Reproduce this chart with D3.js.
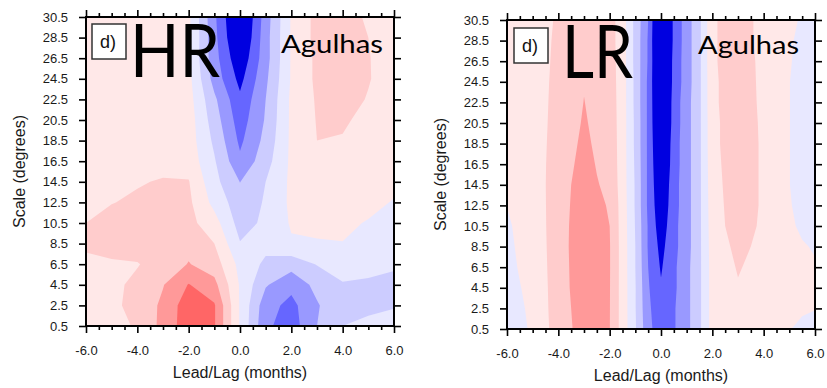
<!DOCTYPE html>
<html>
<head>
<meta charset="utf-8">
<script src="https://cdn.jsdelivr.net/npm/d3@7"></script>
<style>
  body { margin: 0; background: #fff; }
  svg { display: block; }
</style>
</head>
<body>
<svg id="chart" width="827" height="388"></svg>
<script>
// ---- data -------------------------------------------------------------
// Lead/lag axis (months) of each grid column
const hrLags = [-6, -5, -4, -3, -2, -1, 0, 1, 2, 3, 4, 5, 6];
const lrLags = [-6, -5.5, -5, -4.5, -4, -3.5, -3, -2.5, -2, -1.5, -1, -0.5, 0,
                0.5, 1, 1.5, 2, 2.5, 3, 3.5, 4, 4.5, 5, 5.5, 6];
// Spatial scale (degrees) of each grid row, top row first
const scaleRows = [30.5, 28.5, 26.5, 24.5, 22.5, 20.5, 18.5, 16.5,
                   14.5, 12.5, 10.5, 8.5, 6.5, 4.5, 2.5, 0.5];

// HR correlation field: one row per scale (top first), one value per lag
const hrValues = [
  [0.05, 0.05, 0.06, 0.05, 0.02, -0.28, -0.55, -0.25, 0.01, 0.13, 0.13, 0.09, 0.05],
  [0.05, 0.05, 0.06, 0.05, 0.02, -0.27, -0.53, -0.24, 0.01, 0.13, 0.13, 0.10, 0.05],
  [0.05, 0.05, 0.06, 0.05, 0.01, -0.26, -0.48, -0.24, 0.01, 0.12, 0.14, 0.105, 0.05],
  [0.05, 0.05, 0.06, 0.05, 0.03, -0.24, -0.43, -0.22, 0.01, 0.12, 0.14, 0.105, 0.06],
  [0.05, 0.06, 0.07, 0.06, 0.04, -0.18, -0.38, -0.20, 0.02, 0.11, 0.13, 0.095, 0.06],
  [0.05, 0.06, 0.07, 0.07, 0.05, -0.15, -0.35, -0.19, 0.02, 0.105, 0.11, 0.08, 0.06],
  [0.05, 0.06, 0.07, 0.07, 0.05, -0.12, -0.32, -0.17, 0.02, 0.10, 0.095, 0.07, 0.06],
  [0.06, 0.07, 0.08, 0.08, 0.06, -0.09, -0.28, -0.14, 0.02, 0.08, 0.08, 0.07, 0.06],
  [0.06, 0.08, 0.095, 0.105, 0.105, -0.07, -0.202, -0.10, 0.02, 0.06, 0.06, 0.04, 0.02],
  [0.08, 0.098, 0.11, 0.12, 0.12, -0.03, -0.16, -0.09, 0.02, 0.05, 0.04, 0.02, -0.005],
  [0.10, 0.12, 0.13, 0.14, 0.13, 0.04, -0.14, -0.08, 0.01, 0.03, 0.015, -0.005, -0.03],
  [0.115, 0.13, 0.14, 0.15, 0.17, 0.10, -0.095, -0.07, -0.01, -0.01, -0.002, -0.03, -0.06],
  [0.08, 0.09, 0.095, 0.14, 0.205, 0.15, -0.03, -0.12, -0.16, -0.095, -0.07, -0.08, -0.095],
  [0.06, 0.08, 0.12, 0.195, 0.305, 0.23, -0.01, -0.19, -0.27, -0.17, -0.105, -0.11, -0.11],
  [0.05, 0.08, 0.13, 0.22, 0.36, 0.31, -0.01, -0.26, -0.33, -0.21, -0.12, -0.11, -0.102],
  [0.04, 0.07, 0.11, 0.23, 0.36, 0.31, -0.01, -0.28, -0.35, -0.20, -0.10, -0.09, -0.09]
];

// LR correlation field: one column per lag, values from the top scale down
const lrColumns = [
  [0.04, 0.04, 0.04, 0.04, 0.04, 0.04, 0.03, 0.03, 0.02, 0.002, -0.02, -0.03, -0.04, -0.05, -0.05, -0.06],
  [0.06, 0.06, 0.06, 0.06, 0.06, 0.06, 0.05, 0.05, 0.05, 0.04, 0.03, 0.02, 0.01, -0.005, -0.02, -0.03],
  [0.08, 0.08, 0.08, 0.08, 0.08, 0.08, 0.07, 0.07, 0.07, 0.07, 0.06, 0.05, 0.05, 0.04, 0.03, 0.02],
  [0.085, 0.087, 0.088, 0.09, 0.092, 0.094, 0.096, 0.098, 0.099, 0.098, 0.097, 0.095, 0.093, 0.091, 0.09, 0.088],
  [0.11, 0.115, 0.12, 0.125, 0.128, 0.13, 0.135, 0.14, 0.145, 0.15, 0.15, 0.15, 0.145, 0.14, 0.135, 0.13],
  [0.14, 0.145, 0.15, 0.155, 0.16, 0.17, 0.18, 0.19, 0.20, 0.205, 0.21, 0.212, 0.21, 0.208, 0.20, 0.195],
  [0.17, 0.18, 0.19, 0.195, 0.202, 0.21, 0.22, 0.23, 0.24, 0.245, 0.25, 0.25, 0.25, 0.245, 0.24, 0.24],
  [0.16, 0.165, 0.17, 0.172, 0.175, 0.178, 0.185, 0.195, 0.205, 0.215, 0.22, 0.225, 0.225, 0.225, 0.225, 0.225],
  [0.14, 0.14, 0.145, 0.15, 0.155, 0.16, 0.165, 0.17, 0.18, 0.194, 0.20, 0.205, 0.205, 0.204, 0.203, 0.202],
  [0.05, 0.05, 0.05, 0.05, 0.05, 0.05, 0.05, 0.05, 0.05, 0.055, 0.057, 0.058, 0.058, 0.058, 0.058, 0.058],
  [-0.13, -0.13, -0.13, -0.125, -0.125, -0.12, -0.12, -0.115, -0.11, -0.11, -0.105, -0.10, -0.10, -0.095, -0.095, -0.09],
  [-0.30, -0.31, -0.31, -0.32, -0.32, -0.32, -0.32, -0.32, -0.32, -0.32, -0.31, -0.31, -0.30, -0.29, -0.28, -0.27],
  [-0.60, -0.60, -0.59, -0.58, -0.57, -0.56, -0.54, -0.52, -0.50, -0.48, -0.46, -0.43, -0.41, -0.39, -0.37, -0.36],
  [-0.38, -0.38, -0.37, -0.37, -0.36, -0.36, -0.35, -0.35, -0.34, -0.34, -0.33, -0.33, -0.32, -0.32, -0.31, -0.31],
  [-0.25, -0.25, -0.25, -0.25, -0.24, -0.24, -0.24, -0.24, -0.24, -0.24, -0.24, -0.24, -0.23, -0.23, -0.23, -0.23],
  [-0.12, -0.12, -0.12, -0.12, -0.12, -0.12, -0.12, -0.12, -0.12, -0.12, -0.12, -0.12, -0.12, -0.12, -0.12, -0.12],
  [0.08, 0.08, 0.08, 0.075, 0.075, 0.07, 0.07, 0.065, 0.06, 0.055, 0.05, 0.045, 0.04, 0.04, 0.04, 0.04],
  [0.13, 0.13, 0.13, 0.125, 0.125, 0.12, 0.12, 0.115, 0.11, 0.105, 0.10, 0.09, 0.08, 0.07, 0.06, 0.06],
  [0.13, 0.13, 0.13, 0.13, 0.13, 0.13, 0.13, 0.13, 0.13, 0.125, 0.12, 0.115, 0.105, 0.095, 0.085, 0.08],
  [0.105, 0.105, 0.108, 0.11, 0.11, 0.112, 0.115, 0.115, 0.115, 0.115, 0.11, 0.10, 0.09, 0.085, 0.08, 0.075],
  [0.08, 0.08, 0.085, 0.085, 0.088, 0.09, 0.09, 0.09, 0.09, 0.09, 0.088, 0.08, 0.07, 0.065, 0.06, 0.06],
  [0.05, 0.05, 0.05, 0.055, 0.055, 0.055, 0.055, 0.055, 0.055, 0.055, 0.05, 0.05, 0.045, 0.04, 0.035, 0.03],
  [0.02, 0.01, 0.005, 0.001, 0.001, 0.001, 0.001, 0.001, 0.001, 0.005, 0.01, 0.02, 0.02, 0.015, 0.005, 0.001],
  [-0.01, -0.02, -0.02, -0.02, -0.02, -0.02, -0.02, -0.02, -0.02, -0.02, -0.01, 0.005, 0.01, 0.01, 0.003, -0.005],
  [-0.03, -0.03, -0.03, -0.03, -0.03, -0.03, -0.03, -0.03, -0.03, -0.03, -0.02, -0.005, 0.005, 0.005, 0.001, -0.01]
];

// contour levels and the shading of each band (lowest band first)
const contourLevels = [-0.4, -0.3, -0.2, -0.1, 0, 0.1, 0.2, 0.3];
const bandColors = ["#0000e0", "#6666ff", "#9999ff", "#ccccff", "#e8e8ff",
                    "#ffe8e8", "#ffcccc", "#ff9999", "#ff6666"];

// axis ticks
const xMajorTicks = [-6, -4, -2, 0, 2, 4, 6];
const xMinorTicks = [-5.5, -5, -4.5, -3.5, -3, -2.5, -1.5, -1, -0.5,
                     0.5, 1, 1.5, 2.5, 3, 3.5, 4.5, 5, 5.5];
const yTicks = [0.5, 2.5, 4.5, 6.5, 8.5, 10.5, 12.5, 14.5, 16.5,
                18.5, 20.5, 22.5, 24.5, 26.5, 28.5, 30.5];

// ---- drawing ----------------------------------------------------------
const svg = d3.select("#chart");
const fmt = d => d.toFixed(1);
const labelFont = "'Liberation Sans', Arial, sans-serif";
const bigFont = "Lato, 'Open Sans', sans-serif";

const lrValues = scaleRows.map((s, r) => lrColumns.map(col => col[r]));

function drawPanel(cfg) {
  const g = svg.append("g");
  const x = d3.scaleLinear().domain([-6, 6]).range([cfg.left, cfg.right]);
  const y = d3.scaleLinear().domain([0.5, 30.5]).range([cfg.bottom, cfg.top]);

  // grid, lowest scale first
  const rowsAsc = cfg.values.slice().reverse();
  const scalesAsc = scaleRows.slice().reverse();
  const nx = cfg.lags.length, ny = scalesAsc.length;
  const flat = rowsAsc.flat();

  // contour coordinates place sample i at i + 0.5
  const ix = d3.scaleLinear().domain(cfg.lags.map((d, i) => i + 0.5)).range(cfg.lags);
  const iy = d3.scaleLinear().domain(scalesAsc.map((d, i) => i + 0.5)).range(scalesAsc);
  const proj = d3.geoTransform({
    point(px, py) { this.stream.point(x(ix(px)), y(iy(py))); }
  });
  const path = d3.geoPath(proj);
  const contours = d3.contours().size([nx, ny]).thresholds(contourLevels)(flat);

  const clipId = "clip-" + cfg.id;
  g.append("clipPath").attr("id", clipId)
    .append("rect")
    .attr("x", cfg.left).attr("y", cfg.top)
    .attr("width", cfg.right - cfg.left).attr("height", cfg.bottom - cfg.top);

  const field = g.append("g").attr("clip-path", `url(#${clipId})`);
  field.append("rect")
    .attr("x", cfg.left).attr("y", cfg.top)
    .attr("width", cfg.right - cfg.left).attr("height", cfg.bottom - cfg.top)
    .attr("fill", bandColors[0]);
  field.selectAll("path.band")
    .data(contours)
    .join("path")
    .attr("class", "band")
    .attr("d", path)
    .attr("fill", (d, i) => bandColors[i + 1]);

  // axes
  const styleAxis = sel => {
    sel.select(".domain").remove();
    sel.selectAll("line").attr("stroke", "#000").attr("stroke-width", 1.6);
    sel.selectAll("text")
      .attr("font-family", labelFont).attr("font-size", 13).attr("fill", "#1a1a1a");
  };
  const major = 7, minor = 4;

  g.append("g").attr("transform", `translate(0,${cfg.bottom})`)
    .call(d3.axisBottom(x).tickValues(xMajorTicks).tickSize(major).tickPadding(13).tickFormat(fmt))
    .call(styleAxis);
  g.append("g").attr("transform", `translate(0,${cfg.bottom})`)
    .call(d3.axisBottom(x).tickValues(xMinorTicks).tickSize(minor).tickFormat(""))
    .call(styleAxis);
  g.append("g").attr("transform", `translate(0,${cfg.top})`)
    .call(d3.axisTop(x).tickValues(xMajorTicks).tickSize(major).tickFormat(""))
    .call(styleAxis);
  g.append("g").attr("transform", `translate(0,${cfg.top})`)
    .call(d3.axisTop(x).tickValues(xMinorTicks).tickSize(minor).tickFormat(""))
    .call(styleAxis);
  g.append("g").attr("transform", `translate(${cfg.left},0)`)
    .call(d3.axisLeft(y).tickValues(yTicks).tickSize(major).tickPadding(11).tickFormat(fmt))
    .call(styleAxis);
  g.append("g").attr("transform", `translate(${cfg.right},0)`)
    .call(d3.axisRight(y).tickValues(yTicks).tickSize(major).tickFormat(""))
    .call(styleAxis);

  // frame
  g.append("rect")
    .attr("x", cfg.left).attr("y", cfg.top)
    .attr("width", cfg.right - cfg.left).attr("height", cfg.bottom - cfg.top)
    .attr("fill", "none").attr("stroke", "#000").attr("stroke-width", 2);

  // axis titles
  g.append("text")
    .attr("x", (cfg.left + cfg.right) / 2).attr("y", cfg.bottom + 52)
    .attr("text-anchor", "middle")
    .attr("font-family", labelFont).attr("font-size", 16).attr("fill", "#1a1a1a")
    .text("Lead/Lag (months)");
  g.append("text")
    .attr("transform", `translate(${cfg.left - 61},${(cfg.top + cfg.bottom) / 2}) rotate(-90)`)
    .attr("text-anchor", "middle")
    .attr("font-family", labelFont).attr("font-size", 16).attr("fill", "#1a1a1a")
    .text("Scale (degrees)");

  // panel tag
  g.append("rect")
    .attr("x", cfg.left + cfg.tagDx).attr("y", cfg.top + cfg.tagDy)
    .attr("width", 34).attr("height", 35)
    .attr("fill", "#fff").attr("stroke", "#333").attr("stroke-width", 1.5);
  g.append("text")
    .attr("x", cfg.left + cfg.tagDx + 8).attr("y", cfg.top + cfg.tagDy + 24)
    .attr("font-family", labelFont).attr("font-size", 18).attr("fill", "#111")
    .text("d)");

  // resolution and region labels
  g.append("text")
    .attr("x", cfg.bigX).attr("y", cfg.bigY)
    .attr("font-family", bigFont).attr("font-size", 74).attr("fill", "#000")
    .attr("textLength", cfg.bigW).attr("lengthAdjust", "spacingAndGlyphs")
    .text(cfg.name);
  g.append("text")
    .attr("x", cfg.regX).attr("y", cfg.regY)
    .attr("font-family", bigFont).attr("font-size", 25).attr("fill", "#000")
    .attr("textLength", cfg.regW).attr("lengthAdjust", "spacingAndGlyphs")
    .text("Agulhas");
}

drawPanel({
  id: "hr", name: "HR", lags: hrLags, values: hrValues,
  left: 86, right: 394, top: 17, bottom: 326,
  tagDx: 6, tagDy: 7,
  bigX: 130, bigY: 77, bigW: 90,
  regX: 281, regY: 53, regW: 102
});

drawPanel({
  id: "lr", name: "LR", lags: lrLags, values: lrValues,
  left: 507, right: 815, top: 20, bottom: 329,
  tagDx: 7, tagDy: 8,
  bigX: 562, bigY: 78, bigW: 71,
  regX: 698, regY: 54, regW: 101
});
</script>
</body>
</html>
